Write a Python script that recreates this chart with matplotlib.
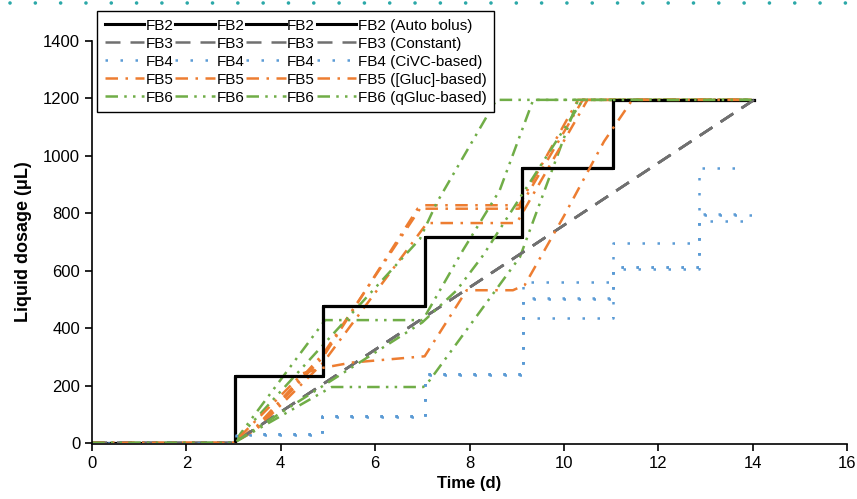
import matplotlib.pyplot as plt
from matplotlib.lines import Line2D

plt.rcParams["font.family"] = ["Liberation Sans", "DejaVu Sans"]

# FB2 auto bolus (stepwise)
fb2_x = [0, 3.03, 4.89, 7.06, 9.11, 11.04, 14.03]
fb2_y = [0, 233, 478, 716, 958, 1195, 1195]

# FB3 constant feed
fb3_x = [0, 3.0, 14.03]
fb3_y = [0, 0, 1195]

# FB4 CiVC-based (stepwise)
fb4_x = [
    [0, 3.05, 4.87, 7.05, 9.14, 11.05, 12.87, 13.75],
    [0, 3.05, 4.87, 7.05, 9.14, 11.05, 12.87, 13.8],
    [0, 3.05, 4.87, 7.05, 9.14, 11.05, 12.87, 14.0],
    [0, 3.05, 4.87, 7.05, 9.14, 11.05, 12.87, 14.0],
]
fb4_y = [
    [0, 30, 95, 242, 559, 698, 957, 957],
    [0, 30, 95, 242, 505, 613, 799, 799],
    [0, 30, 95, 242, 434, 613, 773, 773],
    [0, 28, 92, 238, 500, 606, 795, 795],
]

# FB5 [Gluc]-based
fb5_x = [
    [0, 3.0, 3.5, 4.9, 7.0, 9.05, 10.3, 14.0],
    [0, 3.0, 3.5, 4.9, 6.9, 9.05, 10.4, 14.0],
    [0, 3.0, 3.5, 4.9, 7.1, 9.0, 10.5, 14.0],
    [0, 3.0, 4.47, 4.9, 5.5, 7.05, 7.94, 8.92, 9.17, 10.0, 10.85, 11.45, 14.0],
]
fb5_y = [
    [0, 0, 60, 310, 828, 828, 1195, 1195],
    [0, 0, 55, 300, 816, 816, 1195, 1195],
    [0, 0, 50, 280, 766, 766, 1195, 1195],
    [0, 0, 243, 262, 280, 302, 532, 532, 550, 790, 1050, 1195, 1195],
]

# FB6 qGluc-based
fb6_x = [
    [0, 3.0, 4.94, 7.01, 7.86, 8.64, 9.35, 14.0],
    [0, 3.0, 5.08, 7.02, 7.16, 9.07, 10.3, 14.0],
    [0, 3.0, 6.95, 7.3, 8.57, 14.0],
    [0, 3.0, 7.0, 7.73, 8.29, 10.4, 14.0],
]
fb6_y = [
    [0, 0, 428, 428, 671, 880, 1195, 1195],
    [0, 0, 195, 195, 219, 648, 1195, 1195],
    [0, 0, 711, 835, 1195, 1195],
    [0, 0, 420, 532, 654, 1195, 1195],
]

labels = ["FB2", "FB3", "FB4", "FB5", "FB6"]
full_labels = ["FB2 (Auto bolus)", "FB3 (Constant)", "FB4 (CiVC-based)",
               "FB5 ([Gluc]-based)", "FB6 (qGluc-based)"]

fig = plt.figure(figsize=(8.57, 4.99), dpi=100)
ax = fig.add_axes([92 / 857, 1 - 443 / 499, (847 - 92) / 857, (443 - 41) / 499])

# teal dotted page rule at the top
fig.add_artist(Line2D([0.012, 0.995], [0.994, 0.994], transform=fig.transFigure,
                      color="#2ba8a8", lw=2.6, linestyle=(0, (0.01, 7.0)),
                      dash_capstyle="round"))

handles = {k: [] for k in labels}
for i in range(4):
    h, = ax.plot(fb2_x, fb2_y, drawstyle="steps-post", color="black", lw=2.2)
    handles["FB2"].append(h)
    h, = ax.plot(fb3_x, fb3_y, color="#707070", lw=1.8, linestyle=(0, (6, 4)))
    handles["FB3"].append(h)
    h, = ax.plot(fb4_x[i], fb4_y[i], drawstyle="steps-post", color="#5b9bd5",
                 lw=1.8, linestyle=(0, (1, 5)))
    handles["FB4"].append(h)
    h, = ax.plot(fb5_x[i], fb5_y[i], color="#ed7d31", lw=1.8,
                 linestyle=(0, (5, 3, 1, 3)))
    handles["FB5"].append(h)
    h, = ax.plot(fb6_x[i], fb6_y[i], color="#70ad47", lw=1.8,
                 linestyle=(0, (5, 2.5, 1, 2.5, 1, 2.5)))
    handles["FB6"].append(h)

# legend filled column by column: each row is one feed strategy
leg_handles, leg_labels = [], []
for col in range(4):
    for k, name in enumerate(labels):
        leg_handles.append(handles[name][col])
        leg_labels.append(full_labels[k] if col == 3 else name)

leg = ax.legend(leg_handles, leg_labels, ncol=4, loc="upper left",
                bbox_to_anchor=(97 / 857, 1 - 11 / 499), bbox_transform=fig.transFigure,
                fontsize=11, handlelength=2.6, handletextpad=0.1, columnspacing=0.1,
                labelspacing=0.26, borderpad=0.5, borderaxespad=0, fancybox=False,
                framealpha=1, edgecolor="black")
leg.get_frame().set_linewidth(1.0)

ax.set_xlim(0, 16)
ax.set_ylim(0, 1400)
ax.set_xticks(range(0, 17, 2))
ax.set_yticks(range(0, 1401, 200))
ax.spines["top"].set_visible(False)
ax.spines["right"].set_visible(False)
ax.spines["bottom"].set_position(("data", -3))
ax.tick_params(direction="out", length=5, width=1.2, labelsize=12)
ax.set_xlabel("Time (d)", fontsize=12, fontweight="bold", labelpad=4)
ax.set_ylabel("Liquid dosage (\u03bcL)", fontsize=13, fontweight="bold", labelpad=8)
for s in ax.spines.values():
    s.set_linewidth(1.2)

fig.savefig("out.png", dpi=100)
